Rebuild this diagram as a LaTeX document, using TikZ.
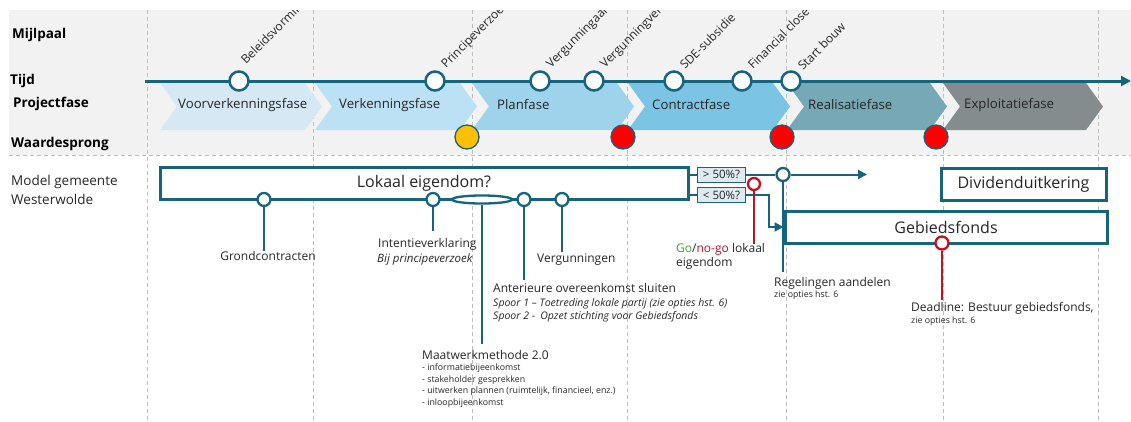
\documentclass[tikz,border=0pt]{standalone}
\usepackage{fontspec}
\setmainfont{Open Sans}
\usetikzlibrary{arrows.meta,shapes.geometric}
\definecolor{tealdark}{RGB}{22,100,125}
\definecolor{bandgray}{RGB}{242,242,242}
\definecolor{sepgray}{RGB}{190,190,190}
\definecolor{txt}{RGB}{38,38,38}
\definecolor{chA}{RGB}{213,232,244}
\definecolor{chB}{RGB}{189,225,244}
\definecolor{chC}{RGB}{158,211,235}
\definecolor{chD}{RGB}{124,196,228}
\definecolor{chE}{RGB}{119,168,181}
\definecolor{chF}{RGB}{133,140,142}
\definecolor{sunny}{RGB}{255,192,0}
\definecolor{alarm}{RGB}{255,0,0}
\definecolor{deepred}{RGB}{200,16,28}
\definecolor{gogreen}{RGB}{64,160,52}
\definecolor{tagfill}{RGB}{222,234,240}
\newcommand\chevron[3]{\fill[#3] (#1,83) -- (#2,83) -- (#2+17,106.5) -- (#2,130) -- (#1,130) -- (#1+17,106.5) -- cycle;}
\begin{document}
\begin{tikzpicture}[x=1pt,y=-1pt,
  sep/.style={draw=sepgray, line width=0.8pt, dash pattern=on 4pt off 3pt},
  rowlab/.style={anchor=west, inner sep=0pt, font=\fontsize{13.5}{16}\selectfont\bfseries, text=black},
  phase/.style={anchor=west, inner sep=0pt, font=\fontsize{13.2}{16}\selectfont, text=txt},
  mile/.style={circle, draw=tealdark, line width=2.5pt, fill=white, minimum size=19pt, inner sep=0pt},
  mlab/.style={anchor=base west, rotate=45, inner sep=0pt, font=\fontsize{12}{14}\selectfont, text=txt},
  jump/.style={circle, draw=tealdark, line width=1.3pt, minimum size=24pt, inner sep=0pt},
  axis/.style={draw=tealdark, line width=3pt, -{Triangle[length=10pt,width=10pt]}},
  bigbox/.style={draw=tealdark, line width=3pt, fill=white, inner sep=0pt, font=\fontsize{16}{19}\selectfont, text=txt},
  dot/.style={circle, draw=tealdark, line width=2.3pt, fill=white, minimum size=13pt, inner sep=0pt},
  reddot/.style={circle, draw=deepred, line width=2.3pt, fill=white, minimum size=13pt, inner sep=0pt},
  tline/.style={draw=tealdark, line width=2.3pt},
  rline/.style={draw=deepred, line width=2.3pt},
  tag/.style={draw=tealdark, line width=1pt, fill=tagfill, inner sep=0pt, minimum width=48pt, minimum height=15pt, font=\fontsize{11.5}{13}\selectfont, text=txt},
  desc/.style={inner sep=0pt, font=\fontsize{12}{14}\selectfont, text=txt},
  note/.style={inner sep=0pt, font=\fontsize{10.5}{13.5}\selectfont\itshape, text=txt},
  tiny/.style={inner sep=0pt, font=\fontsize{8.8}{11.4}\selectfont, text=txt, align=left}]
\useasboundingbox (0,0) rectangle (1131,421);

% header band and grid
\fill[bandgray] (9,10) rectangle (1131,155);
\draw[sep] (9,155) -- (1131,155);
\foreach \x in {147,313,472,627,786,943,1098} \draw[sep] (\x,10) -- (\x,421);

% row titles
\node[rowlab] (rmij) at (12,35) {Mijlpaal};
\node[rowlab] (rtijd) at (10,81) {Tijd};
\node[rowlab] (rproj) at (13,104) {Projectfase};
\node[rowlab] (rwaar) at (11,144) {Waardesprong};
\node[anchor=north west, inner sep=0pt, align=left, font=\fontsize{13.5}{19}\selectfont, text=txt] (rmodel) at (11,175) {Model gemeente\\Westerwolde};

% project phases
\chevron{160}{305}{chA}
\chevron{315}{460}{chB}
\chevron{472}{617}{chC}
\chevron{628}{773}{chD}
\chevron{787}{930}{chE}
\chevron{943}{1086}{chF}
\node[phase] (p1) at (178,105) {Voorverkenningsfase};
\node[phase] (p2) at (339,105) {Verkenningsfase};
\node[phase] (p3) at (497,105) {Planfase};
\node[phase] (p4) at (652,105) {Contractfase};
\node[phase] (p5) at (808,105) {Realisatiefase};
\node[phase] (p6) at (964,105) {Exploitatiefase};

% time axis with milestones
\coordinate (tstart) at (145,81);
\coordinate (tend) at (1131,81);
\draw[axis] (tstart) -- (tend);
\node[mile] (m1) at (239,81) {};
\node[mile] (m2) at (435,81) {};
\node[mile] (m3) at (540,81) {};
\node[mile] (m4) at (594,81) {};
\node[mile] (m5) at (674,81) {};
\node[mile] (m6) at (742,81) {};
\node[mile] (m7) at (791,81) {};
\begin{scope}
  \clip (9,10) rectangle (1131,81);
  \node[mlab] (l1) at (246,65) {Beleidsvorming};
  \node[mlab] (l2) at (446,69) {Principeverzoek};
  \node[mlab] (l3) at (551,69) {Vergunningaanvraag};
  \node[mlab] (l4) at (605,69) {Vergunningverlening};
  \node[mlab] (l5) at (685,70) {SDE-subsidie};
  \node[mlab] (l6) at (753,70) {Financial close};
  \node[mlab] (l7) at (803,71) {Start bouw};
\end{scope}

% value jumps
\node[jump, fill=sunny] (w1) at (467,137) {};
\node[jump, fill=alarm] (w2) at (623,137) {};
\node[jump, fill=alarm] (w3) at (782,137) {};
\node[jump, fill=alarm] (w4) at (936,137) {};

% municipal model: local ownership track
\node[bigbox, minimum width=528pt, minimum height=32pt] (lok) at (424,183.5) {Lokaal eigendom?};
\node[dot] (c1) at (264,199.5) {};
\node[dot] (c2) at (433,199.5) {};
\node[ellipse, draw=tealdark, line width=2.3pt, fill=white, minimum width=60pt, minimum height=8pt, inner sep=0pt] (c3) at (482,199.5) {};
\node[dot] (c4) at (524,199.5) {};
\node[dot] (c5) at (562,199.5) {};

\node[desc, anchor=north] (t1) at (268,251) {Grondcontracten};
\draw[tline] (c1.south) -- (c1.south |- t1.north);

\node[desc, anchor=north west] (t2) at (378,238) {Intentieverklaring};
\node[note, anchor=north west, font=\fontsize{11.5}{13.5}\selectfont\itshape] (t2b) at (377,254) {Bij principeverzoek};
\coordinate (e2) at (433,231);
\draw[tline] (c2.south) -- (e2);

\node[desc, anchor=north west] (t3) at (422,350) {Maatwerkmethode 2.0};
\node[tiny, anchor=north west] (t3b) at (422,364) {- informatiebijeenkomst\\- stakeholder gesprekken\\- uitwerken plannen (ruimtelijk, financieel, enz.)\\- inloopbijeenkomst};
\coordinate (e3) at (482,344);
\draw[tline] (c3.south) -- (e3);

\node[desc, anchor=north west] (t4) at (493,283) {Anterieure overeenkomst sluiten};
\node[note, anchor=north west, align=left] (t4b) at (493,298) {Spoor 1 -- Toetreding lokale partij (zie opties hst. 6)\\Spoor 2 -\enspace Opzet stichting voor Gebiedsfonds};
\coordinate (e4) at (524,280);
\draw[tline] (c4.south) -- (e4);

\node[desc, anchor=north west] (t5) at (537,253) {Vergunningen};
\coordinate (e5) at (562,252);
\draw[tline] (c5.south) -- (e5);

% outcome branches
\node[tag] (g50) at (721.5,174.5) {> 50\%?};
\node[tag] (l50) at (721.5,195) {< 50\%?};
\draw[tline, line width=2pt] (lok.east |- g50.west) -- (g50.west);
\draw[tline, line width=2pt] (lok.east |- l50.west) -- (l50.west);

\node[dot] (sb) at (783,174.5) {};
\coordinate (gout) at (867,174.5);
\coordinate (reg) at (783,272);
\draw[tline, line width=2pt] (g50.east) -- (sb.west);
\draw[tline, line width=2pt, -{Triangle[length=9pt,width=9pt]}] (sb.east) -- (gout);
\draw[tline] (sb.south) -- (reg);

\node[bigbox, minimum width=322pt, minimum height=32pt] (gb) at (946,227) {Gebiedsfonds};
\node[bigbox, minimum width=165pt, minimum height=32pt] (dv) at (1023.5,184) {Dividenduitkering};
\draw[tline, line width=2pt, -{Triangle[length=9pt,width=9pt]}] (l50.east) -- ++(23,0) |- (gb.west);

\node[desc, anchor=north west] (t6) at (774,277) {Regelingen aandelen};
\node[tiny, anchor=north west] (t6b) at (774,291) {zie opties hst. 6};

% go / no-go decision
\node[reddot, minimum size=12pt] (gng) at (754,184) {};
\coordinate (e7) at (754,244);
\draw[rline] (gng.south) -- (e7);
\node[desc, anchor=north west, align=left] (t7) at (676,243) {\textcolor{gogreen}{Go}/\textcolor{deepred}{no-go} lokaal\\eigendom};

% deadline on the area fund
\node[reddot] (dl) at (942,243) {};
\coordinate (e8) at (942,300);
\draw[rline] (dl.south) -- (e8);
\node[desc, anchor=north west] (t8) at (911,302) {Deadline: Bestuur gebiedsfonds,};
\node[tiny, anchor=north west] (t8b) at (911,317) {zie opties hst. 6};
\end{tikzpicture}
\end{document}
